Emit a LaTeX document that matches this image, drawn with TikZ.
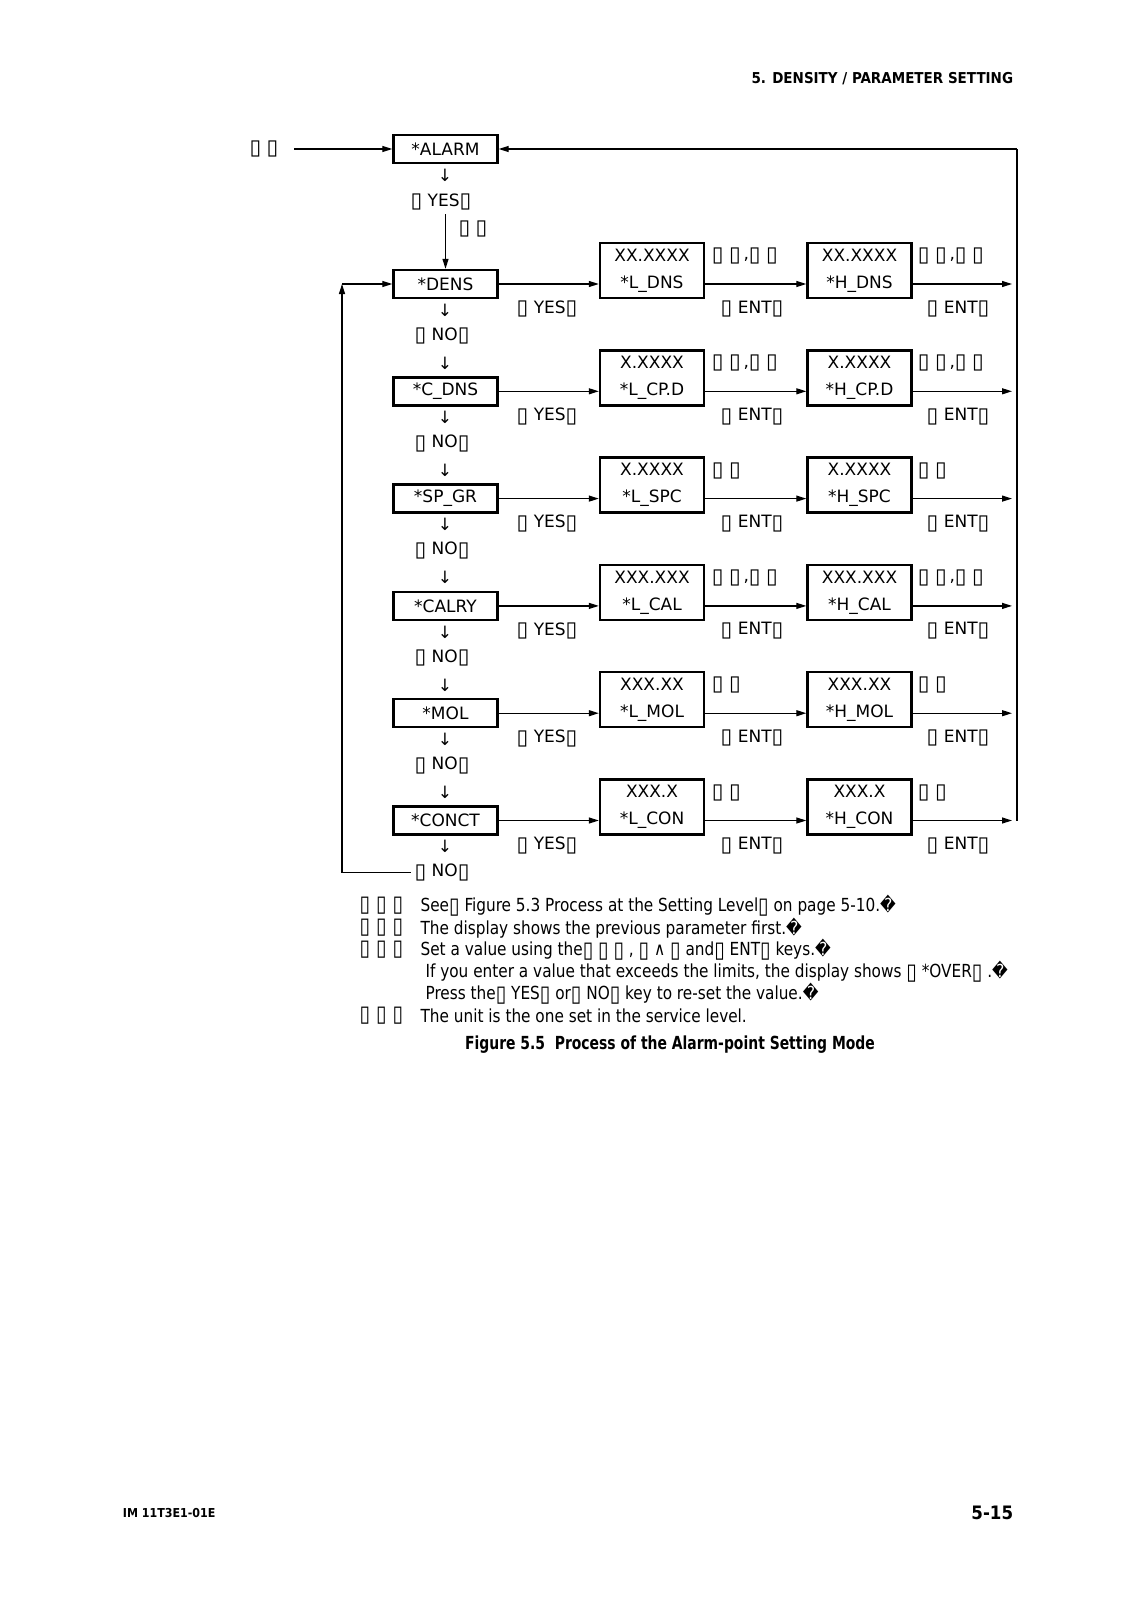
\documentclass[tikz,border=0pt]{standalone}
\usepackage{fontspec}
\setmainfont{DejaVu Sans}
\newfontfamily\notefont[FakeStretch=0.945]{DejaVu Sans Condensed}
\newfontfamily\capfont[FakeStretch=0.86]{DejaVu Sans Condensed}
\newfontfamily\headfont{DejaVu Sans Condensed}
\usetikzlibrary{arrows.meta,positioning}

\newcommand{\tf}{\raisebox{-.1em}{\scalebox{1.25}{▯}}}
\newcommand{\pair}{\tf\ \tf}
\newcommand{\pairc}{\tf\ \tf\,,\tf\ \tf}
\newcommand{\notetag}{\tf\hspace{6pt}\tf\hspace{6pt}\tf}

\tikzset{
  dispbox/.style={draw, line width=2.4pt, minimum width=104pt, inner sep=0pt,
    align=center, font=\fontsize{17}{27}\selectfont},
  notetxt/.style={anchor=west, inner sep=0pt, font=\notefont\fontsize{18}{20}\selectfont},
}

\begin{document}
\begin{tikzpicture}[x=1pt,y=-1pt,line width=1.2pt,>={Triangle[length=10pt,width=6pt]},
  font=\fontsize{17}{20}\selectfont]
\useasboundingbox (0,0) rectangle (1131,1600);

% Page head and foot
\node[anchor=east,font=\headfont\bfseries\fontsize{15}{17}\selectfont] (head) at (1017,79) {5. DENSITY / PARAMETER SETTING};
\node[anchor=west,font=\headfont\bfseries\fontsize{12.3}{14}\selectfont] (foot) at (119,1513) {IM 11T3E1-01E};
\node[anchor=east,font=\headfont\bfseries\fontsize{18.5}{21}\selectfont] (pagenum) at (1017,1513) {5-15};

% Entry
\node[dispbox,minimum height=28pt] (alarm) at (445.5,149) {*ALARM};
\node (start) at (264,149) {\pair};
\draw[->] ([xshift=12pt]start.east) -- (alarm.west);
\node (dn0) at (445,175) {↓};
\node (yes0) at (441,202) {\tf\ YES\tf};
\node (hint0) at (473,229) {\pair};

% Rows
\foreach \i/\nm/\val/\lo/\hi/\tag in {1/DENS/XX.XXXX/L\_DNS/H\_DNS/\pairc,
    2/C\_DNS/X.XXXX/L\_CP.D/H\_CP.D/\pairc, 3/SP\_GR/X.XXXX/L\_SPC/H\_SPC/\pair,
    4/CALRY/XXX.XXX/L\_CAL/H\_CAL/\pairc, 5/MOL/XXX.XX/L\_MOL/H\_MOL/\pair,
    6/CONCT/XXX.X/L\_CON/H\_CON/\pair}{
  \pgfmathsetmacro\ry{284+107.3*(\i-1)}
  \node[dispbox,minimum height=28pt] (b\i) at (445.5,\ry) {*\nm};
  \node[dispbox,minimum height=55pt] (l\i) at (652,\ry-13.5) {\val\\*\lo};
  \node[dispbox,minimum height=55pt] (h\i) at (859.5,\ry-13.5) {\val\\*\hi};
  \node[anchor=west] (ln\i) at (708,\ry-28) {\tag};
  \node[anchor=west] (hn\i) at (914,\ry-28) {\tag};
  \coordinate (out\i) at (1012,\ry);
  \draw[->] (b\i.east) -- (b\i.east -| l\i.west);
  \draw[->] (l\i.east |- b\i.east) -- (b\i.east -| h\i.west);
  \draw[->] (h\i.east |- b\i.east) -- (out\i);
  % keys
  \node (yes\i) at (547,\ry+25) {\tf\ YES\tf};
  \node (ent\i) at (752,\ry+25) {\tf\ ENT\tf};
  \node (entb\i) at (958,\ry+25) {\tf\ ENT\tf};
  \node (dn\i) at (445,\ry+26) {↓};
  \node (no\i) at (442,\ry+52) {\tf\ NO\tf};
  \ifnum\i<6 \node (dnb\i) at (445,\ry+79) {↓}; \fi
}

\draw[->] (b1.north |- yes0.south) -- (b1.north);

% Return lines
\coordinate (rtop) at (1017,149);
\coordinate (rbot) at (1017,820.5);
\draw (rbot) -- (rtop);
\draw[->] (rtop) -- (alarm.east);
\coordinate (ltop) at (342,284);
\draw[->] (no6.west) -| (ltop);
\draw[->] (ltop) -- (b1.west);

% Notes
\node[notetxt] (tag1) at (359,906) {\notetag};
\node[notetxt] (note1) at (420,906) {See\tf\ Figure 5.3 Process at the Setting Level\tf\ on page 5-10.�};
\node[notetxt] (tag2) at (359,928) {\notetag};
\node[notetxt] (note2) at (420,928) {The display shows the previous parameter first.�};
\node[notetxt] (tag3) at (359,950) {\notetag};
\node[notetxt] (note3) at (420,950) {Set a value using the\tf\ \tf\ \tf\ , \tf\ ∧ \tf\ and\tf\ ENT\tf\ keys.�};
\node[notetxt] (note4) at (425,972) {If you enter a value that exceeds the limits, the display shows \tf\ *OVER\tf\ .�};
\node[notetxt] (note5) at (425,994) {Press the\tf\ YES\tf\ or\tf\ NO\tf\ key to re-set the value.�};
\node[notetxt] (tag6) at (359,1016) {\notetag};
\node[notetxt] (note6) at (420,1016) {The unit is the one set in the service level.};
\node[font=\capfont\bfseries\fontsize{18}{20}\selectfont] (caption) at (670,1045) {Figure 5.5~~Process of the Alarm-point Setting Mode};
\end{tikzpicture}
\end{document}
